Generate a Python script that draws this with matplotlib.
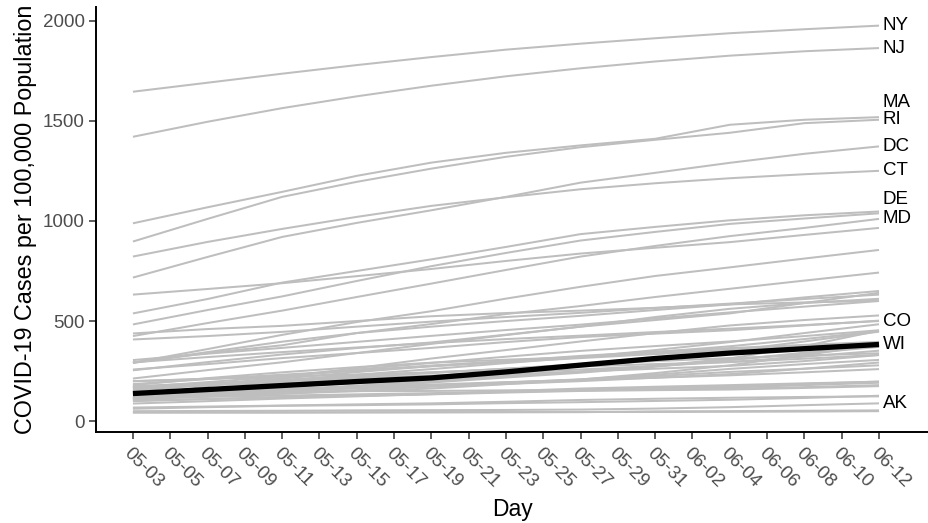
import matplotlib.pyplot as plt
import numpy as np
import pandas as pd

plt.rcParams['font.family'] = ['Liberation Sans', 'DejaVu Sans']

# sampled every 4 days, cases per 100,000
sample_days = ['05-03', '05-07', '05-11', '05-15', '05-19', '05-23',
               '05-27', '05-31', '06-04', '06-08', '06-12']

states = ['NY', 'NJ', 'MA', 'RI', 'DC', 'CT', 'DE', 'IL', 'MD', 'LA',
          'NE', 'IA', 'SD', 'MS', 'PA', 'VA', 'MI', 'IN', 'CO', 'GA',
          'MN', 'AL', 'AZ', 'NM', 'TN', 'UT', 'ND', 'KS', 'NH', 'AR',
          'NC', 'CA', 'NV', 'OH', 'WA', 'FL', 'SC', 'TX', 'KY', 'MO',
          'OK', 'ME', 'ID', 'VT', 'WY', 'WV', 'OR', 'AK', 'MT', 'HI',
          'WI']

cases = [
    [1645, 1690, 1735, 1778, 1818, 1855, 1885, 1912, 1937, 1957, 1975],
    [1420, 1495, 1563, 1622, 1675, 1722, 1762, 1796, 1825, 1847, 1863],
    [988, 1068, 1145, 1225, 1291, 1340, 1377, 1410, 1480, 1505, 1518],
    [897, 1010, 1120, 1195, 1261, 1320, 1368, 1405, 1440, 1488, 1505],
    [717, 820, 920, 990, 1053, 1120, 1191, 1240, 1290, 1335, 1372],
    [822, 895, 960, 1020, 1075, 1118, 1158, 1188, 1213, 1233, 1250],
    [538, 610, 692, 750, 808, 870, 934, 970, 1003, 1028, 1047],
    [483, 555, 623, 700, 774, 840, 902, 945, 985, 1012, 1038],
    [425, 490, 552, 620, 687, 755, 822, 875, 924, 965, 1010],
    [632, 660, 689, 724, 760, 800, 837, 866, 894, 930, 965],
    [292, 360, 431, 495, 549, 612, 671, 725, 768, 812, 855],
    [291, 340, 379, 440, 485, 535, 575, 620, 661, 702, 742],
    [292, 345, 397, 440, 472, 500, 526, 555, 583, 618, 650],
    [254, 295, 333, 365, 393, 432, 472, 505, 538, 590, 641],
    [408, 425, 446, 472, 497, 520, 541, 565, 587, 610, 632],
    [213, 255, 294, 340, 386, 430, 472, 520, 561, 590, 611],
    [438, 460, 476, 500, 524, 540, 552, 566, 583, 593, 601],
    [305, 337, 366, 396, 426, 455, 482, 513, 543, 572, 600],
    [294, 320, 345, 368, 390, 410, 427, 445, 462, 480, 500],
    [258, 285, 315, 340, 366, 395, 420, 437, 454, 478, 502],
    [118, 175, 222, 265, 313, 355, 398, 440, 478, 505, 528],
    [158, 180, 204, 232, 260, 290, 319, 355, 395, 440, 484],
    [119, 138, 156, 178, 200, 222, 246, 275, 313, 375, 452],
    [168, 195, 223, 258, 291, 322, 351, 375, 398, 425, 454],
    [199, 212, 228, 252, 278, 298, 319, 345, 374, 410, 450],
    [166, 183, 201, 220, 240, 262, 285, 315, 351, 398, 447],
    [151, 182, 213, 245, 275, 300, 326, 347, 365, 381, 396],
    [180, 215, 244, 270, 292, 307, 320, 338, 357, 375, 392],
    [185, 210, 232, 253, 274, 295, 315, 335, 353, 370, 386],
    [114, 125, 138, 150, 163, 185, 208, 240, 279, 330, 382],
    [110, 128, 146, 170, 193, 218, 242, 272, 305, 342, 382],
    [136, 155, 172, 190, 206, 226, 248, 275, 306, 338, 371],
    [170, 185, 200, 214, 228, 243, 258, 276, 296, 322, 352],
    [175, 190, 206, 225, 243, 262, 282, 300, 315, 328, 339],
    [200, 211, 222, 233, 244, 258, 273, 285, 295, 312, 331],
    [168, 180, 191, 205, 219, 233, 248, 262, 276, 300, 330],
    [129, 142, 154, 166, 178, 193, 209, 232, 261, 285, 306],
    [109, 123, 137, 155, 172, 186, 200, 217, 235, 262, 293],
    [115, 132, 149, 164, 178, 192, 206, 225, 246, 262, 279],
    [137, 150, 162, 172, 183, 195, 206, 217, 229, 244, 260],
    [100, 110, 120, 128, 136, 146, 157, 166, 174, 186, 198],
    [88, 100, 113, 124, 135, 150, 163, 172, 180, 189, 197],
    [115, 122, 128, 134, 140, 147, 153, 160, 168, 180, 192],
    [145, 147, 149, 150, 151, 154, 156, 159, 162, 170, 180],
    [103, 111, 119, 127, 134, 143, 151, 155, 158, 166, 175],
    [68, 73, 78, 84, 89, 97, 106, 112, 117, 121, 124],
    [62, 70, 77, 80, 84, 90, 95, 101, 107, 116, 127],
    [50, 51, 52, 54, 55, 56, 58, 63, 70, 80, 89],
    [43, 43, 43, 44, 44, 45, 45, 49, 50, 52, 54],
    [44, 44, 44, 44, 45, 45, 46, 46, 47, 48, 50],
    [138, 158, 178, 198, 216, 246, 280, 313, 340, 362, 383],
]

labelled = ['NY', 'NJ', 'MA', 'RI', 'DC', 'CT', 'DE', 'MD', 'CO', 'WI', 'AK']
highlight = 'WI'

tick_labels = ['05-03', '05-05', '05-07', '05-09', '05-11', '05-13', '05-15',
               '05-17', '05-19', '05-21', '05-23', '05-25', '05-27', '05-29',
               '05-31', '06-02', '06-04', '06-06', '06-08', '06-10', '06-12']

# labels pushed apart where they would collide
nudge = {'MA': 72, 'DE': 58}


def day_number(md):
    return (pd.Timestamp('2020-' + md) - pd.Timestamp('2020-05-03')).days


x = np.array([day_number(d) for d in sample_days])
ticks = [day_number(d) for d in tick_labels]

fig = plt.figure(figsize=(9.29, 5.23), dpi=100)
ax = fig.add_axes([96 / 929, 91 / 523, 833 / 929, 425 / 523])

for st, vals in zip(states, cases):
    if st == highlight:
        ax.plot(x, vals, color='black', lw=3.8, zorder=3, solid_capstyle='butt')
    else:
        ax.plot(x, vals, color='#BEBEBE', lw=1.45, zorder=2, solid_capstyle='butt')
    if st in labelled:
        ax.text(x[-1] + 0.2, vals[-1] + nudge.get(st, 0), st, fontsize=13.5,
                va='center', ha='left', color='black')

ax.set_xlim(-1.98, 42.68)
ax.set_ylim(-54, 2068)
ax.set_yticks([0, 500, 1000, 1500, 2000])
ax.set_xticks(ticks)
ax.set_xticklabels(tick_labels, rotation=-45, ha='left', va='top',
                   rotation_mode='anchor')

for side in ['top', 'right']:
    ax.spines[side].set_visible(False)
for side in ['left', 'bottom']:
    ax.spines[side].set_linewidth(1.4)
ax.tick_params(colors='#333333', labelcolor='#4D4D4D', length=5, width=1.1,
               labelsize=13.5)
ax.tick_params(axis='x', pad=4)
ax.tick_params(axis='y', pad=3)

ax.set_xlabel('Day', fontsize=16.5, labelpad=5)
ax.set_ylabel('COVID-19 Cases per 100,000 Population', fontsize=16.8,
              labelpad=4)

fig.savefig('out.png', dpi=100)
